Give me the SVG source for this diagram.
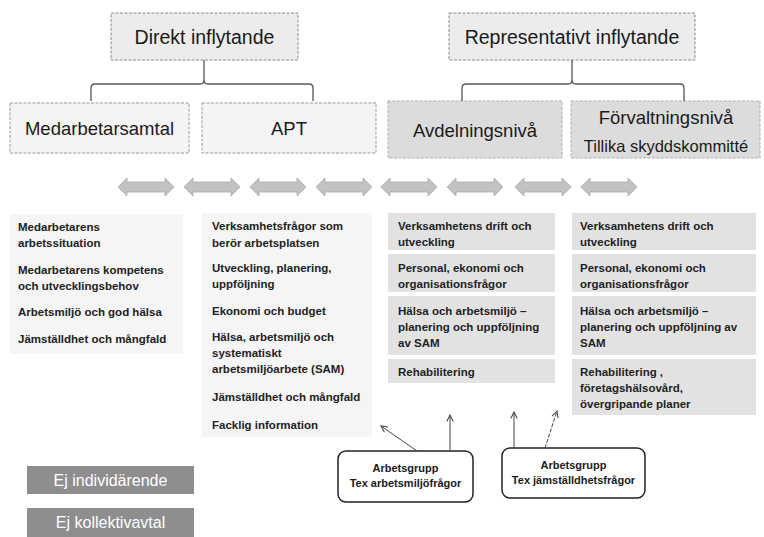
<svg xmlns="http://www.w3.org/2000/svg" width="764" height="537" viewBox="0 0 764 537">
<style>
.top{fill:#ececec;stroke:#8a8a8a;stroke-width:1;stroke-dasharray:3 1.5}
.lt{fill:#f4f4f4;stroke:#9a9a9a;stroke-width:1;stroke-dasharray:3 1.5}
.dk{fill:#dcdcdc;stroke:#b0b0b0;stroke-width:1;stroke-dasharray:3 1.5}
.h1{font-family:"Liberation Sans",Arial,sans-serif;font-size:19.5px;fill:#1a1a1a;text-anchor:middle}
.h2{font-family:"Liberation Sans",Arial,sans-serif;font-size:18.5px;fill:#1a1a1a;text-anchor:middle}
.h3{font-family:"Liberation Sans",Arial,sans-serif;font-size:16.5px;fill:#1a1a1a;text-anchor:middle}
.t{font-family:"Liberation Sans",Arial,sans-serif;font-size:11.5px;font-weight:bold;fill:#222}
.brace{fill:none;stroke:#555;stroke-width:1.3}
.dbl{fill:#c2c2c2;stroke:#aaaaaa;stroke-width:0.8}
.col1{fill:#f5f5f5}
.seg{fill:#e2e2e2}
.grp{fill:#ffffff;stroke:#222;stroke-width:1.5}
.gt{font-family:"Liberation Sans",Arial,sans-serif;font-size:11px;font-weight:bold;fill:#1a1a1a;text-anchor:middle}
.ej{fill:#8e8e8e}
.ejt{font-family:"Liberation Sans",Arial,sans-serif;font-size:16px;fill:#ffffff;text-anchor:middle}
.con{fill:none;stroke:#444;stroke-width:1;marker-end:url(#ah)}
</style>
<defs>
<marker id="ah" viewBox="0 0 10 10" refX="9" refY="5" markerWidth="8" markerHeight="8" orient="auto" markerUnits="userSpaceOnUse">
<path d="M1,1 L9,5 L1,9" fill="none" stroke="#444" stroke-width="1.3"/>
</marker>
<path id="da" d="M-28,0 L-19,-9 L-19,-5 L19,-5 L19,-9 L28,0 L19,9 L19,5 L-19,5 L-19,9 Z"/>
</defs>
<rect width="764" height="537" fill="#ffffff"/>

<g id="direkt">
<rect class="top" x="111" y="13" width="187" height="47"/>
<text class="h1" x="204.5" y="44">Direkt inflytande</text>
</g>
<g id="representativt">
<rect class="top" x="449" y="13" width="246" height="47"/>
<text class="h1" x="572" y="44">Representativt inflytande</text>
</g>

<g id="medarbetarsamtal">
<rect class="lt" x="10" y="103" width="179" height="50"/>
<text class="h2" x="99.5" y="135">Medarbetarsamtal</text>
</g>
<g id="apt">
<rect class="lt" x="202" y="103" width="174" height="50"/>
<text class="h2" x="289" y="135">APT</text>
</g>
<g id="avdelningsniva">
<rect class="dk" x="388" y="101" width="174" height="57"/>
<text class="h2" x="475" y="137">Avdelningsnivå</text>
</g>
<g id="forvaltningsniva">
<rect class="dk" x="571" y="101" width="189" height="57"/>
<text class="h2" x="666" y="124">Förvaltningsnivå</text>
<text class="h3" x="666" y="152">Tillika skyddskommitté</text>
</g>

<g id="arrows-row">
<use href="#da" class="dbl" x="146" y="187"/>
<use href="#da" class="dbl" x="212" y="187"/>
<use href="#da" class="dbl" x="278" y="187"/>
<use href="#da" class="dbl" x="344" y="187"/>
<use href="#da" class="dbl" x="409" y="187"/>
<use href="#da" class="dbl" x="475" y="187"/>
<use href="#da" class="dbl" x="543" y="187"/>
<use href="#da" class="dbl" x="609" y="187"/>
</g>

<g id="col-medarbetarsamtal">
<rect class="col1" x="10" y="214" width="173" height="140"/>
<text class="t" x="18" y="231">Medarbetarens</text>
<text class="t" x="18" y="247">arbetssituation</text>
<text class="t" x="18" y="274">Medarbetarens kompetens</text>
<text class="t" x="18" y="290">och utvecklingsbehov</text>
<text class="t" x="18" y="316">Arbetsmiljö och god hälsa</text>
<text class="t" x="18" y="343">Jämställdhet och mångfald</text>
</g>

<g id="col-apt">
<rect class="col1" x="202" y="213" width="170" height="224"/>
<text class="t" x="212" y="230">Verksamhetsfrågor som</text>
<text class="t" x="212" y="247">berör arbetsplatsen</text>
<text class="t" x="212" y="272">Utveckling, planering,</text>
<text class="t" x="212" y="288">uppföljning</text>
<text class="t" x="212" y="315">Ekonomi och budget</text>
<text class="t" x="212" y="341">Hälsa, arbetsmiljö och</text>
<text class="t" x="212" y="357">systematiskt</text>
<text class="t" x="212" y="373">arbetsmiljöarbete (SAM)</text>
<text class="t" x="212" y="401">Jämställdhet och mångfald</text>
<text class="t" x="212" y="429">Facklig information</text>
</g>

<g id="col-avdelning">
<rect class="seg" x="388" y="213" width="167" height="37"/>
<rect class="seg" x="388" y="254" width="167" height="38"/>
<rect class="seg" x="388" y="296" width="167" height="59"/>
<rect class="seg" x="388" y="359" width="167" height="24"/>
<text class="t" x="398" y="230">Verksamhetens drift och</text>
<text class="t" x="398" y="246">utveckling</text>
<text class="t" x="398" y="272">Personal, ekonomi och</text>
<text class="t" x="398" y="288">organisationsfrågor</text>
<text class="t" x="398" y="315">Hälsa och arbetsmiljö –</text>
<text class="t" x="398" y="331">planering och uppföljning</text>
<text class="t" x="398" y="347">av SAM</text>
<text class="t" x="398" y="376">Rehabilitering</text>
</g>

<g id="col-forvaltning">
<rect class="seg" x="572" y="213" width="184" height="37"/>
<rect class="seg" x="572" y="254" width="184" height="38"/>
<rect class="seg" x="572" y="296" width="184" height="59"/>
<rect class="seg" x="572" y="359" width="184" height="56"/>
<text class="t" x="580" y="230">Verksamhetens drift och</text>
<text class="t" x="580" y="246">utveckling</text>
<text class="t" x="580" y="272">Personal, ekonomi och</text>
<text class="t" x="580" y="288">organisationsfrågor</text>
<text class="t" x="580" y="315">Hälsa och arbetsmiljö –</text>
<text class="t" x="580" y="331">planering och uppföljning av</text>
<text class="t" x="580" y="347">SAM</text>
<text class="t" x="580" y="376">Rehabilitering ,</text>
<text class="t" x="580" y="392">företagshälsovård,</text>
<text class="t" x="580" y="408">övergripande planer</text>
</g>

<g id="arbetsgrupp1">
<rect class="grp" x="338" y="451" width="135" height="51" rx="8"/>
<text class="gt" x="405.5" y="472">Arbetsgrupp</text>
<text class="gt" x="405.5" y="487">Tex arbetsmiljöfrågor</text>
</g>
<g id="arbetsgrupp2">
<rect class="grp" x="502" y="448" width="143" height="50" rx="8"/>
<text class="gt" x="573.5" y="469">Arbetsgrupp</text>
<text class="gt" x="573.5" y="484">Tex jämställdhetsfrågor</text>
</g>

<g id="ej-individarende">
<rect class="ej" x="27" y="466" width="167" height="28"/>
<text class="ejt" x="110.5" y="486">Ej individärende</text>
</g>
<g id="ej-kollektivavtal">
<rect class="ej" x="27" y="508" width="167" height="29"/>
<text class="ejt" x="110.5" y="528">Ej kollektivavtal</text>
</g>

<g id="connectors">
<path class="brace" d="M91,101 V88 Q91,84 95,84 H200 Q204,84 204,80 V60 M204,80 Q204,84 208,84 H309 Q313,84 313,88 V101"/>
<path class="brace" d="M462,101 V88 Q462,84 466,84 H568 Q572,84 572,80 V60 M572,80 Q572,84 576,84 H680 Q684,84 684,88 V101"/>
<line class="con" x1="417" y1="451" x2="381" y2="426"/>
<line class="con" x1="450" y1="451" x2="450" y2="415"/>
<line class="con" x1="514" y1="448" x2="514" y2="412"/>
<line class="con" x1="545" y1="448" x2="557" y2="411" stroke-dasharray="4 1.5"/>
</g>
</svg>
